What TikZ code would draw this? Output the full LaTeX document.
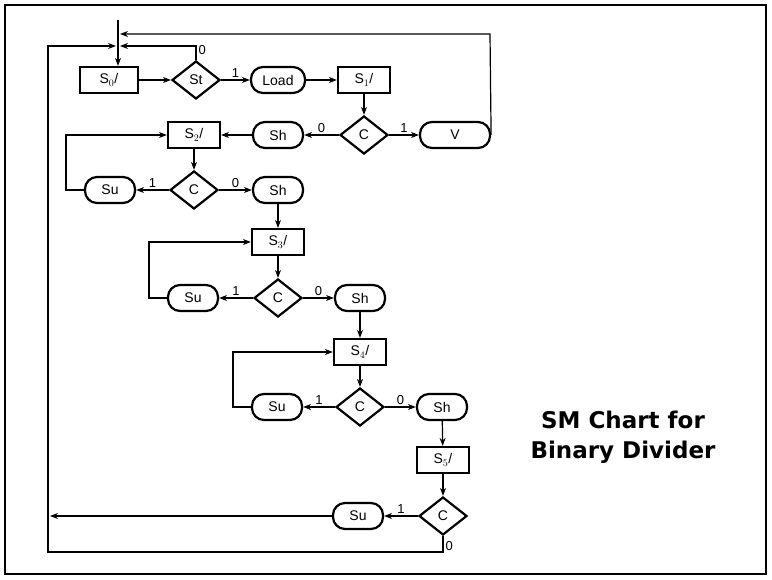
\documentclass[tikz,border=0pt]{standalone}
\usepackage{fontspec}
\setmainfont{Liberation Sans}
\newfontfamily\titlefont{DejaVu Sans}
\usetikzlibrary{shapes.geometric,arrows.meta}
\begin{document}
\begin{tikzpicture}[x=1pt,y=-1pt,
  stbox/.style={draw,line width=2.2pt,minimum width=52pt,minimum height=26pt,inner sep=0pt,font=\fontsize{14}{14}\selectfont},
  obox/.style={draw,line width=2.2pt,rounded corners=12pt,minimum width=50pt,minimum height=26pt,inner sep=0pt,font=\fontsize{14}{14}\selectfont},
  dbox/.style={draw,line width=2.2pt,diamond,aspect=1.25,minimum width=48pt,minimum height=38pt,inner sep=0pt,font=\fontsize{14}{14}\selectfont},
  ar/.style={-{Stealth[length=8pt,width=6pt]},line width=1.2pt},
  lb/.style={font=\fontsize{13}{13}\selectfont,inner sep=2pt}]
\useasboundingbox (0,0) rectangle (772,580);
\draw[line width=2pt] (5,5) rectangle (766,574);
\node[stbox,minimum width=58pt] (s0) at (109,80) {S$_0$/};
\node[dbox] (st) at (196,80) {St};
\node[obox,minimum width=54pt] (load) at (278,80) {Load};
\node[stbox] (s1) at (364,80) {S$_1$/};
\node[dbox] (c1) at (364,135) {C};
\node[obox,minimum width=70pt] (v) at (455,135) {V};
\node[obox] (sh1) at (278,135) {Sh};
\node[stbox] (s2) at (194,135) {S$_2$/};
\node[dbox] (c2) at (194,190) {C};
\node[obox] (su2) at (110,190) {Su};
\node[obox] (sh2) at (278,190) {Sh};
\node[stbox] (s3) at (278,242) {S$_3$/};
\node[dbox] (c3) at (278,298) {C};
\node[obox] (su3) at (193,298) {Su};
\node[obox] (sh3) at (360,298) {Sh};
\node[stbox] (s4) at (360,352) {S$_4$/};
\node[dbox] (c4) at (360,407) {C};
\node[obox] (su4) at (277,407) {Su};
\node[obox] (sh4) at (442,407) {Sh};
\node[stbox] (s5) at (443,460) {S$_5$/};
\node[dbox] (c5) at (443,516) {C};
\node[obox] (su5) at (358,516) {Su};
\coordinate (top) at (118,20);
\draw[ar] (top) -- (s0.north -| top);
\draw[ar] (s0) -- (st);
\draw[ar] (st) -- node[lb,above]{1} (load);
\draw[ar] (load) -- (s1);
\draw[ar] (s1) -- (c1);
\draw[ar] (c1) -- node[lb,above]{1} (v);
\draw[ar] (c1) -- node[lb,above]{0} (sh1);
\draw[ar] (sh1) -- (s2);
\draw[ar] (s2) -- (c2);
\draw[ar] (c2) -- node[lb,above]{1} (su2);
\draw[ar] (c2) -- node[lb,above]{0} (sh2);
\draw[ar] (sh2) -- (s3);
\draw[ar] (s3) -- (c3);
\draw[ar] (c3) -- node[lb,above]{1} (su3);
\draw[ar] (c3) -- node[lb,above]{0} (sh3);
\draw[ar] (sh3) -- (s4);
\draw[ar] (s4) -- (c4);
\draw[ar] (c4) -- node[lb,above]{1} (su4);
\draw[ar] (c4) -- node[lb,above]{0} (sh4);
\draw[ar] (sh4) -- (s5);
\draw[ar] (s5) -- (c5);
\draw[ar] (c5) -- node[lb,above]{1} (su5);
\draw[ar] (su2.west) -- ++(-18,0) |- (s2.west);
\draw[ar] (su3.west) -- ++(-18,0) |- (s3.west);
\draw[ar] (su4.west) -- ++(-18,0) |- (s4.west);
\draw[ar] (st.north) -- node[lb,right,pos=0.7]{0} (196,46) -- (120,46);
\draw[ar] (v.east) -- (490,34) -- (120,34);
\draw[ar] (c5.south) -- node[lb,right,pos=0.6]{0} (443,552) -- (48,552) -- (48,46) -- (116,46);
\draw[ar] (su5) -- (50,516);
\node[font=\titlefont\bfseries\fontsize{23}{30}\selectfont,align=center] (title) at (623,437) {SM Chart for\\Binary Divider};
\end{tikzpicture}
\end{document}
